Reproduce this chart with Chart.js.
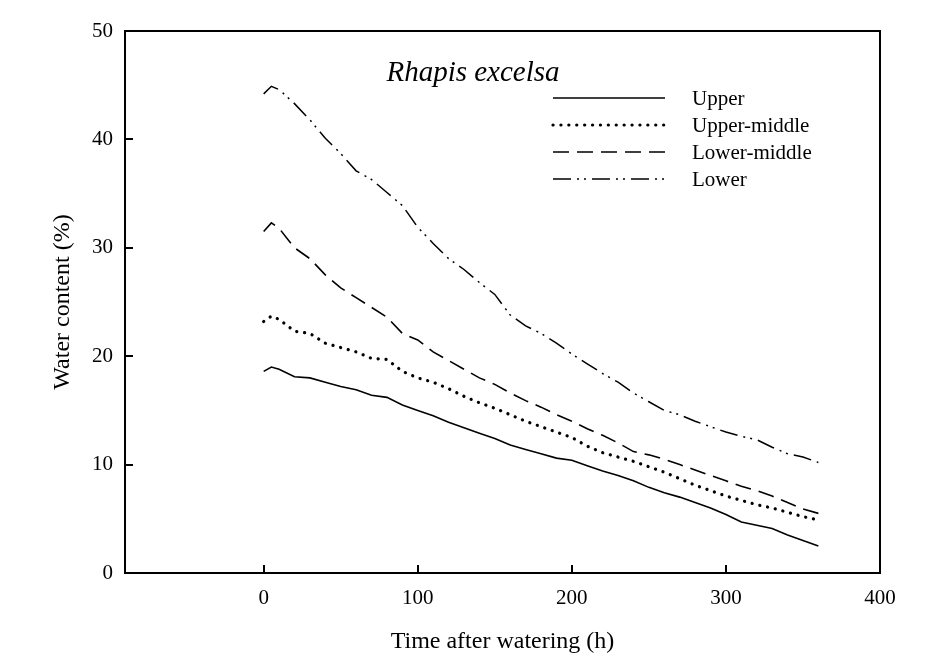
<!DOCTYPE html>
<html>
<head>
<meta charset="utf-8">
<title>Rhapis excelsa water content</title>
<script src="https://cdn.jsdelivr.net/npm/chart.js@4/dist/chart.umd.min.js"></script>
<style>
  html, body { margin: 0; padding: 0; background: #fff; }
  #wrap { width: 936px; height: 665px; position: relative; }
</style>
</head>
<body>
<div id="wrap"><canvas id="chart"></canvas></div>
<script>
// Time after watering (h)
const hours = [0, 5, 10, 20, 30, 40, 50, 60, 70, 80, 90, 100, 110, 120, 130, 140, 150, 160, 170, 180,
  190, 200, 210, 220, 230, 240, 250, 260, 270, 280, 290, 300, 310, 320, 330, 340, 350, 360];

// Water content (%) per layer
const upper = [18.6, 19.0, 18.8, 18.1, 18.0, 17.6, 17.2, 16.9, 16.4, 16.2, 15.5, 15.0, 14.5, 13.9, 13.4, 12.9, 12.4, 11.8, 11.4, 11.0,
  10.6, 10.4, 9.9, 9.4, 9.0, 8.5, 7.9, 7.4, 7.0, 6.5, 6.0, 5.4, 4.7, 4.4, 4.1, 3.5, 3.0, 2.5];
const upperMiddle = [23.2, 23.7, 23.4, 22.3, 22.1, 21.2, 20.8, 20.4, 19.8, 19.7, 18.6, 18.0, 17.6, 17.0, 16.3, 15.7, 15.2, 14.6, 14.0, 13.5,
  13.0, 12.5, 11.7, 11.1, 10.7, 10.3, 9.8, 9.3, 8.7, 8.1, 7.6, 7.1, 6.7, 6.3, 6.0, 5.6, 5.2, 4.9];
const lowerMiddle = [31.5, 32.3, 31.8, 30.0, 29.0, 27.5, 26.3, 25.4, 24.5, 23.6, 22.1, 21.5, 20.4, 19.6, 18.8, 18.0, 17.4, 16.6, 15.9, 15.3,
  14.6, 14.0, 13.3, 12.7, 12.0, 11.2, 10.9, 10.5, 10.0, 9.5, 9.0, 8.5, 8.0, 7.6, 7.1, 6.5, 5.9, 5.5];
const lower = [44.2, 44.9, 44.6, 43.3, 41.8, 40.1, 38.7, 37.1, 36.3, 35.1, 33.9, 31.9, 30.4, 29.0, 28.0, 26.8, 25.7, 23.8, 22.8, 22.1,
  21.2, 20.2, 19.3, 18.4, 17.6, 16.6, 15.8, 15.0, 14.6, 14.0, 13.5, 13.0, 12.6, 12.3, 11.6, 11.0, 10.7, 10.2];

const seriesNames = ['Upper', 'Upper-middle', 'Lower-middle', 'Lower'];
const xTicks = [0, 100, 200, 300, 400];
const yTicks = [0, 10, 20, 30, 40, 50];

const serif = "'Liberation Serif', 'Times New Roman', serif";

function toPoints(values) {
  return hours.map((h, i) => ({ x: h, y: values[i] }));
}

const lineStyles = [
  { borderWidth: 1.6, borderDash: [], borderCapStyle: 'butt' },
  { borderWidth: 3.2, borderDash: [0.1, 7.8], borderCapStyle: 'round' },
  { borderWidth: 1.6, borderDash: [16, 8], borderCapStyle: 'butt' },
  { borderWidth: 1.5, borderDash: [18, 6, 2, 5, 2, 6], borderCapStyle: 'butt' }
];

const datasets = [upper, upperMiddle, lowerMiddle, lower].map((vals, i) => ({
  label: seriesNames[i],
  data: toPoints(vals),
  borderColor: '#000',
  backgroundColor: '#000',
  pointRadius: 0,
  tension: 0,
  fill: false,
  ...lineStyles[i]
}));

// frame, inward ticks, in-plot title and legend
const decorations = {
  id: 'decorations',
  afterDraw(chart) {
    const ctx = chart.ctx;
    const area = chart.chartArea;
    const xs = chart.scales.x;
    const ys = chart.scales.y;
    ctx.save();
    ctx.strokeStyle = '#000';
    ctx.lineWidth = 2;
    ctx.setLineDash([]);
    ctx.strokeRect(area.left, area.top, area.right - area.left, area.bottom - area.top);

    ctx.beginPath();
    xTicks.forEach(v => {
      const px = Math.round(xs.getPixelForValue(v));
      ctx.moveTo(px, area.bottom);
      ctx.lineTo(px, area.bottom - 8);
    });
    yTicks.forEach(v => {
      const py = Math.round(ys.getPixelForValue(v));
      ctx.moveTo(area.left, py);
      ctx.lineTo(area.left + 8, py);
    });
    ctx.stroke();

    // title
    ctx.fillStyle = '#000';
    ctx.font = "italic 29px " + serif;
    ctx.textAlign = 'center';
    ctx.textBaseline = 'middle';
    ctx.fillText('Rhapis excelsa', 473, 73);

    // legend
    ctx.font = "21px " + serif;
    ctx.textAlign = 'left';
    chart.data.datasets.forEach((ds, i) => {
      const y = 98 + i * 27;
      ctx.save();
      ctx.strokeStyle = ds.borderColor;
      ctx.lineWidth = ds.borderWidth;
      ctx.lineCap = ds.borderCapStyle;
      ctx.setLineDash(ds.borderDash);
      ctx.beginPath();
      ctx.moveTo(553, y);
      ctx.lineTo(665, y);
      ctx.stroke();
      ctx.restore();
      ctx.fillText(ds.label, 692, y + 1);
    });
    ctx.restore();
  }
};

new Chart(document.getElementById('chart'), {
  type: 'line',
  data: { datasets: datasets },
  options: {
    responsive: true,
    maintainAspectRatio: false,
    animation: false,
    layout: { padding: { top: 31, right: 56, left: 0, bottom: 0 } },
    plugins: {
      legend: { display: false },
      tooltip: { enabled: false }
    },
    scales: {
      x: {
        type: 'linear',
        min: -90,
        max: 400,
        afterBuildTicks: scale => { scale.ticks = xTicks.map(v => ({ value: v })); },
        afterFit: scale => { scale.height = 92; },
        grid: { display: false, drawTicks: false },
        border: { display: false },
        ticks: { color: '#000', font: { family: serif, size: 21 }, padding: 13, maxRotation: 0 },
        title: {
          display: true,
          text: 'Time after watering (h)',
          color: '#000',
          font: { family: serif, size: 24 },
          padding: { top: 0, bottom: 9 }
        }
      },
      y: {
        min: 0,
        max: 50,
        afterBuildTicks: scale => { scale.ticks = yTicks.map(v => ({ value: v })); },
        afterFit: scale => { scale.width = 125; },
        grid: { display: false, drawTicks: false },
        border: { display: false },
        ticks: { color: '#000', font: { family: serif, size: 21 }, padding: 12 },
        title: {
          display: true,
          text: 'Water content (%)',
          color: '#000',
          font: { family: serif, size: 24 },
          padding: { top: 48, bottom: 0 }
        }
      }
    }
  },
  plugins: [decorations]
});
</script>
</body>
</html>
